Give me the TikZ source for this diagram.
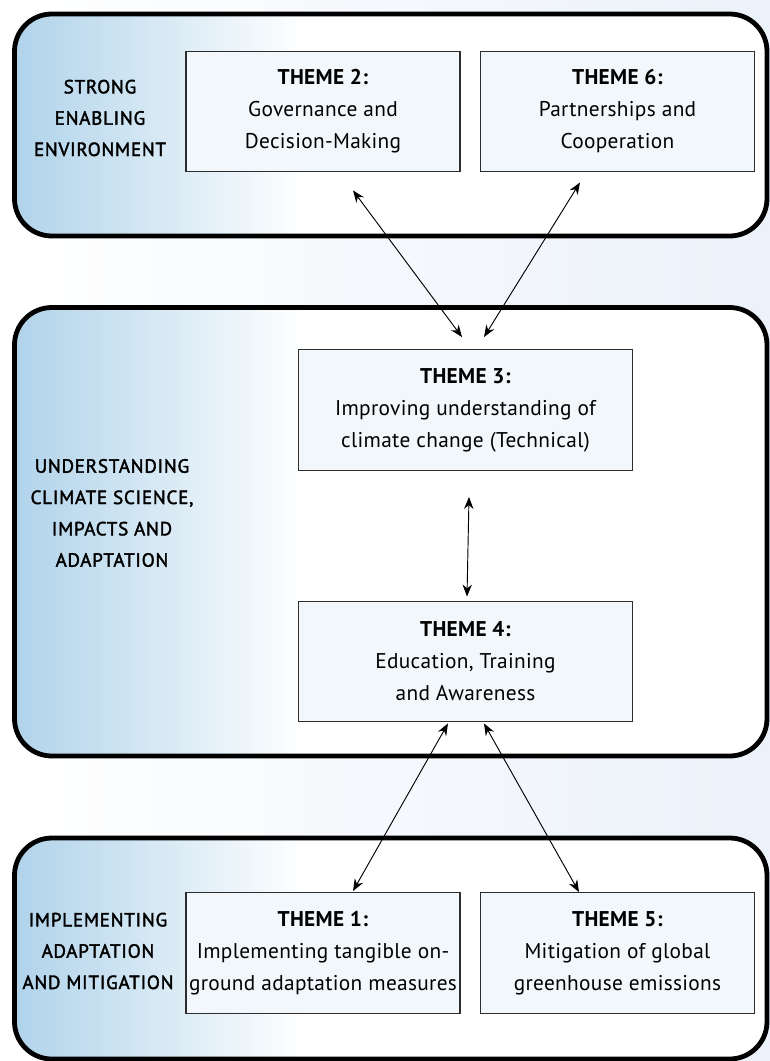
\documentclass[tikz,border=0pt]{standalone}
\usepackage{fontspec}
\setmainfont{PT Sans}
\newfontfamily\tagfont[LetterSpace=4,FakeBold=2]{PT Sans}
\usetikzlibrary{arrows.meta}

\definecolor{panelblue}{RGB}{176,211,234}
\definecolor{boxfill}{RGB}{242,247,251}
\definecolor{pagetint}{RGB}{236,242,250}
\definecolor{boxline}{RGB}{45,45,45}

\begin{document}
\begin{tikzpicture}[x=0.75pt,y=0.75pt,yscale=-1,xscale=1,
  theme/.style={draw=boxline, line width=0.9pt, fill=boxfill, minimum height=90.5pt,
    align=center, inner sep=0pt, font=\fontsize{16}{24}\selectfont\addfontfeature{LetterSpace=1.5}},
  narrowtheme/.style={theme, minimum width=205.5pt},
  widetheme/.style={theme, minimum width=251pt},
  tag/.style={align=center, inner sep=0pt, font=\tagfont\fontsize{14.3}{23.5}\selectfont},
  panelrim/.style={draw=black, line width=3.6pt, rounded corners=28},
  link/.style={{Stealth[length=9pt,width=7pt]}-{Stealth[length=9pt,width=7pt]}, line width=0.7pt}]

%Shape: Background
\shade[left color=white, middle color=white, right color=pagetint] (0,0) rectangle (770,1061);
\useasboundingbox (0,0) rectangle (770,1061);

%Shape: Rounded Rectangle [top]
\fill[white, rounded corners=28] (14.5,14) rectangle (767,236);
\begin{scope}
\clip[rounded corners=28] (14.5,14) rectangle (767,236);
\shade[left color=panelblue, right color=white] (14.5,14) rectangle (305,236);
\end{scope}
\draw[panelrim] (14.5,14) rectangle (767,236);
%Shape: Rounded Rectangle [middle]
\fill[white, rounded corners=28] (14.5,307.5) rectangle (767,756);
\begin{scope}
\clip[rounded corners=28] (14.5,307.5) rectangle (767,756);
\shade[left color=panelblue, right color=white] (14.5,307.5) rectangle (305,756);
\end{scope}
\draw[panelrim] (14.5,307.5) rectangle (767,756);
%Shape: Rounded Rectangle [bottom]
\fill[white, rounded corners=28] (14.5,838) rectangle (767,1059);
\begin{scope}
\clip[rounded corners=28] (14.5,838) rectangle (767,1059);
\shade[left color=panelblue, right color=white] (14.5,838) rectangle (305,1059);
\end{scope}
\draw[panelrim] (14.5,838) rectangle (767,1059);

% Text Node
\node (envtag) [tag] at (100,118) {STRONG\\ENABLING\\ENVIRONMENT};
% Text Node
\node (scitag) [tag] at (112,513) {UNDERSTANDING\\CLIMATE SCIENCE,\\IMPACTS AND\\ADAPTATION};
% Text Node
\node (acttag) [tag] at (98,951) {IMPLEMENTING\\ADAPTATION\\AND MITIGATION};

% Text Node
\node (t2) [narrowtheme] at (323,111.5) {\textbf{THEME 2:}\\Governance and\\Decision-Making};
% Text Node
\node (t6) [narrowtheme] at (617.5,111.5) {\textbf{THEME 6:}\\Partnerships and\\Cooperation};
% Text Node
\node (t3) [widetheme] at (465.5,410) {\textbf{THEME 3:}\\Improving understanding of\\climate change (Technical)};
% Text Node
\node (t4) [widetheme] at (465.5,661.5) {\textbf{THEME 4:}\\Education, Training\\and Awareness};
% Text Node
\node (t1) [narrowtheme] at (323,953) {\textbf{THEME 1:}\\Implementing tangible on-\\ground adaptation measures};
% Text Node
\node (t5) [narrowtheme] at (617.5,953) {\textbf{THEME 5:}\\Mitigation of global\\greenhouse emissions};

% Connection
\draw[link] ([shift={(30,18)}]t2.south) -- ([shift={(-3.5,-12)}]t3.north);
% Connection
\draw[link] ([shift={(-37.5,10)}]t6.south) -- ([shift={(18.5,-12)}]t3.north);
% Connection
\draw[link] ([shift={(3.5,26)}]t3.south) -- ([shift={(1.5,-4)}]t4.north);
% Connection
\draw[link] ([shift={(-17.5,1)}]t4.south) -- ([shift={(30,-1)}]t1.north);
% Connection
\draw[link] ([shift={(18.5,1)}]t4.south) -- ([shift={(-38.5,0)}]t5.north);

\end{tikzpicture}
\end{document}
